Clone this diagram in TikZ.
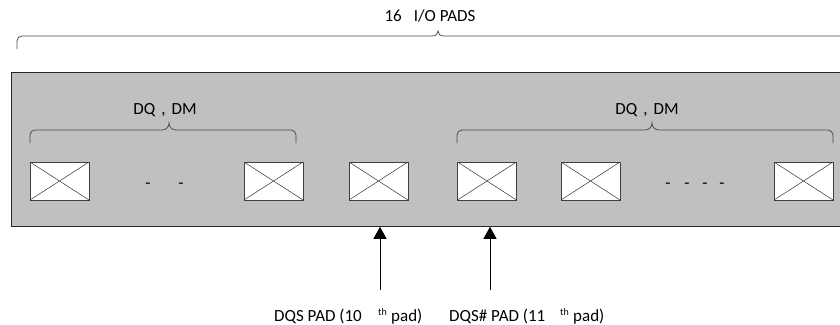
\documentclass[tikz,border=0pt]{standalone}
\usepackage{fontspec}
\setmainfont{Carlito}
\usetikzlibrary{arrows.meta}
\definecolor{chipgray}{HTML}{C0C0C0}
\begin{document}
\begin{tikzpicture}[x=1pt,y=-1pt,
  pad/.style={draw=black!75, fill=white, line width=0.8pt,
    minimum width=59pt, minimum height=38pt, inner sep=0pt,
    path picture={\draw[black!80, line width=0.5pt]
      (path picture bounding box.north west) -- (path picture bounding box.south east)
      (path picture bounding box.south west) -- (path picture bounding box.north east);}},
  lbl/.style={font=\fontsize{17}{20}\selectfont, inner sep=0pt},
  gap/.style={font=\fontsize{17}{20}\selectfont, inner sep=0pt},
  brace/.style={draw=black!70, line width=0.8pt},
  feed/.style={draw=black, line width=0.9pt, -{Triangle[length=12pt,width=13pt]}}]
\useasboundingbox (0,0) rectangle (840,324);

% package body
\node (chip) [draw=black!85, fill=chipgray, line width=0.8pt, anchor=north west,
  minimum width=840pt, minimum height=154pt, inner sep=0pt] at (11,72) {};

% overall brace and title
\node (title) [lbl] at (430,16) {16\hspace{12pt}I/O PADS};
\draw[brace] (17,49) [rounded corners=5pt] -- (17,36) [sharp corners] -- (432,36)
  .. controls (436,36) and (438,34) .. (438,31)
  .. controls (438,34) and (440,36) .. (444,36) -- (850,36);

% group braces
\node (dqL) [lbl] at (165,110) {DQ\hspace{6pt},\hspace{6pt}DM};
\draw[brace] (30,143) [rounded corners=5pt] -- (30,130) [sharp corners] -- (162,130)
  .. controls (166,130) and (169,127) .. (169,123)
  .. controls (169,127) and (172,130) .. (176,130) [rounded corners=5pt] -- (296,130) -- (296,143);
\node (dqR) [lbl] at (647,110) {DQ\hspace{6pt},\hspace{6pt}DM};
\draw[brace] (457,143) [rounded corners=5pt] -- (457,130) [sharp corners] -- (645,130)
  .. controls (649,130) and (652,127) .. (652,123)
  .. controls (652,127) and (655,130) .. (659,130) [rounded corners=5pt] -- (833,130) -- (833,143);

% pads
\node (p1) [pad] at (59.5,181) {};
\node (p2) [pad] at (273.5,181) {};
\node (p3) [pad] at (378.5,181) {};
\node (p4) [pad] at (487,181) {};
\node (p5) [pad] at (590.5,181) {};
\node (p6) [pad] at (803.5,181) {};

% omitted pads
\node (g1) [gap] at (148,186) {-};
\node (g2) [gap] at (181,186) {-};
\node (g3) [gap] at (668,186) {-};
\node (g4) [gap] at (687,186) {-};
\node (g5) [gap] at (705,186) {-};
\node (g6) [gap] at (722,186) {-};

% strobe pads
\coordinate (s1) at (380,290);
\coordinate (s2) at (490,290);
\draw[feed] (s1) -- (s1 |- chip.south);
\draw[feed] (s2) -- (s2 |- chip.south);
\node (l1) [lbl, anchor=base west] at (274,321)
  {\makebox[104pt][l]{DQS PAD (10}\makebox[13pt][l]{\raisebox{6pt}{\fontsize{10}{10}\selectfont th}}pad)};
\node (l2) [lbl, anchor=base west] at (449,321)
  {\makebox[111pt][l]{DQS\# PAD (11}\makebox[13pt][l]{\raisebox{6pt}{\fontsize{10}{10}\selectfont th}}pad)};
\end{tikzpicture}
\end{document}
